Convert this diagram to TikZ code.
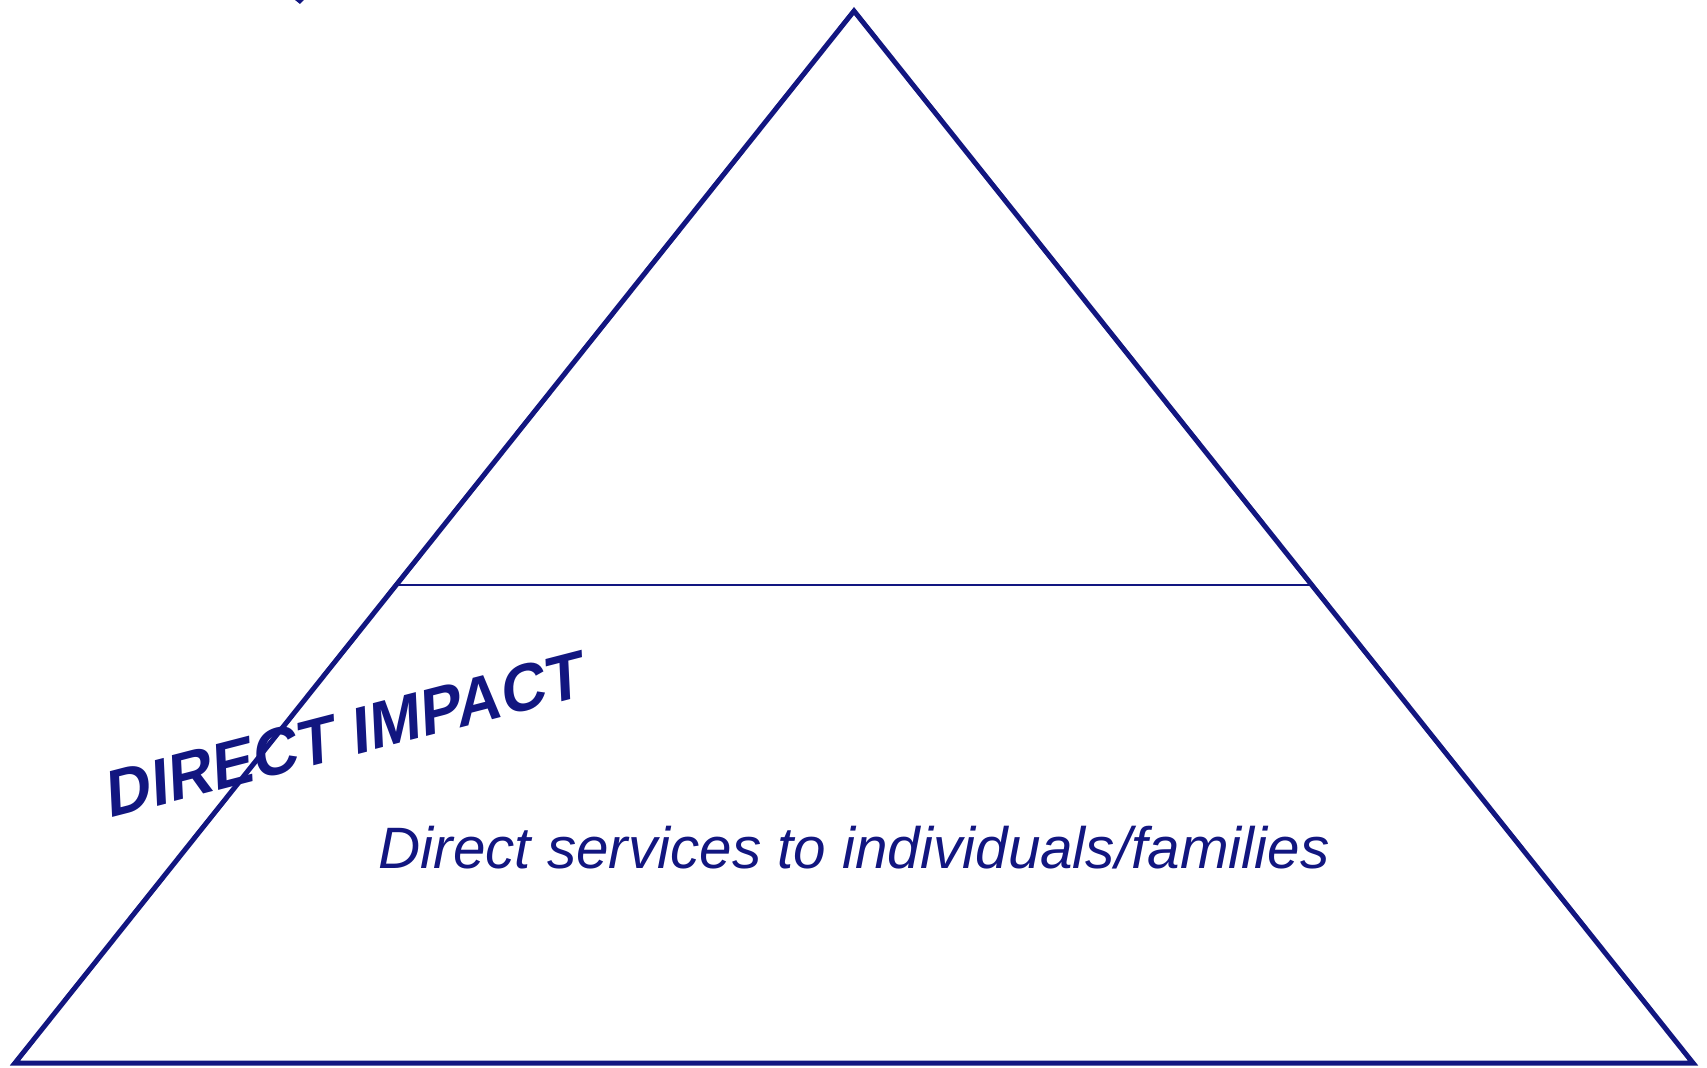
\documentclass[tikz,border=0pt]{standalone}
\usepackage{fontspec}
\setmainfont{Liberation Sans}
\usetikzlibrary{calc,positioning}
\definecolor{pyrblue}{RGB}{18,22,128}
\begin{document}
\begin{tikzpicture}[x=0.5pt,y=0.5pt,
    outline/.style={draw=pyrblue,line width=2.5pt},
    divider/.style={draw=pyrblue,line width=1pt},
    levellabel/.style={text=pyrblue,inner sep=0pt,anchor=base}]
      \useasboundingbox (0,0) rectangle (1707,1067);
      \coordinate (top) at (854,1056);
      \coordinate (botl) at (15,4);
      \coordinate (botr) at (1693,4);
      \draw[outline] (botl) -- (top) -- (botr) -- cycle;
      \coordinate (midl) at ($(botl)!0.4544!(top)$);
      \coordinate (midr) at ($(botr)!0.4544!(top)$);
      \draw[divider] (midl) -- (midr);
      % slanted word art: baseline rises, letters stay almost upright
      \node[levellabel,cm={0.968,0.250,-0.051,1.05,(0,0)},
      font=\bfseries\fontsize{31.7}{36}\selectfont]
      (impact) at (347,310) {DIRECT IMPACT};
      \node[levellabel,font=\itshape\fontsize{29.2}{34}\selectfont]
      (services) at (854,199) {Direct services to individuals/families};
      % cut-off mark at the upper edge
      \fill[pyrblue] (295,1067) -- (304,1067) -- (300,1063) -- cycle;
\end{tikzpicture}
\end{document}
